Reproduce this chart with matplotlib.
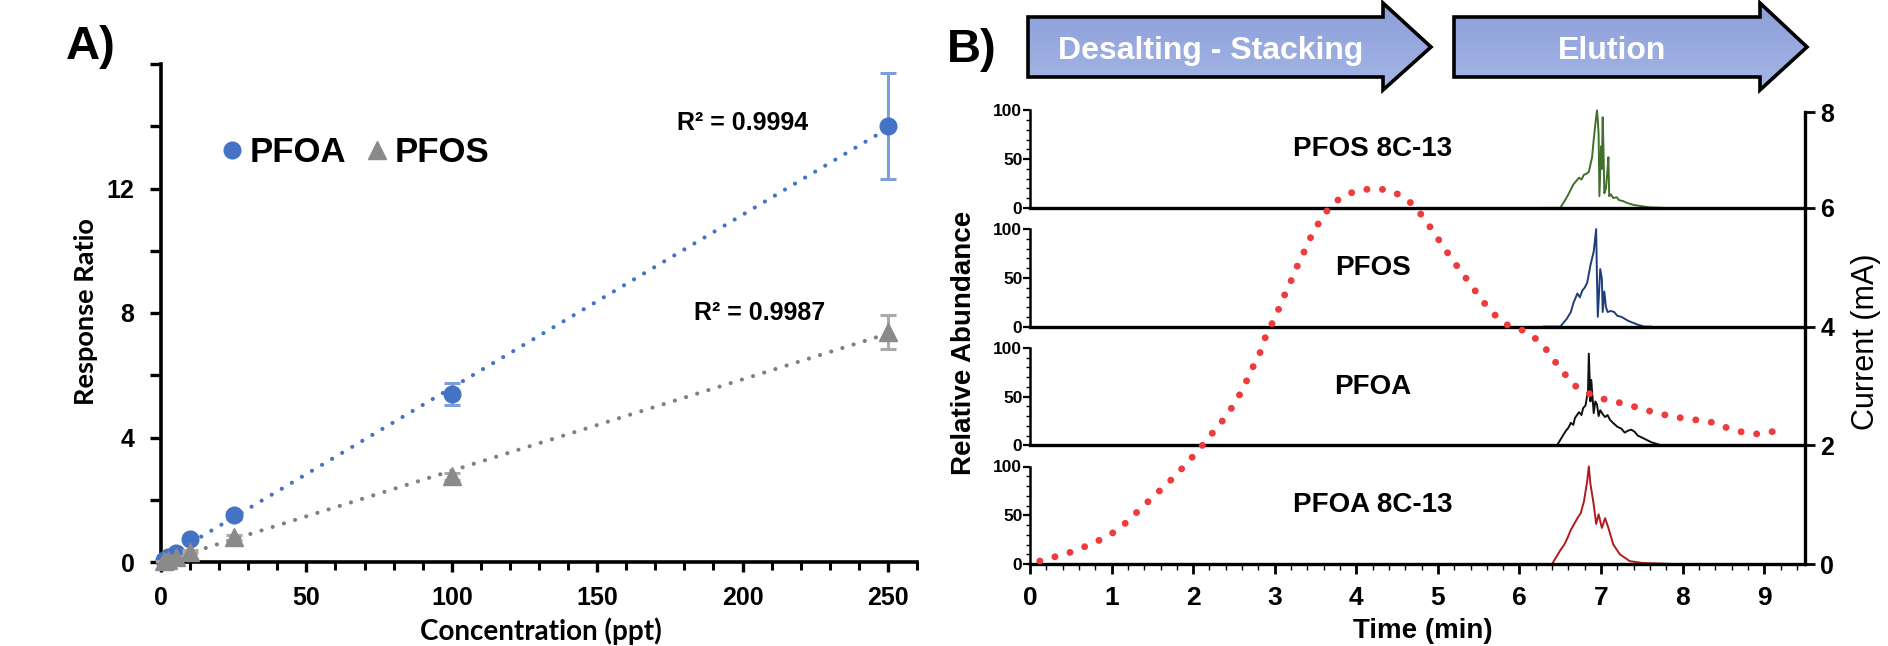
import numpy as np
import matplotlib
matplotlib.use("Agg")
import matplotlib.pyplot as plt
from matplotlib.ticker import FixedLocator, MultipleLocator, FuncFormatter
from matplotlib.patches import Polygon
from matplotlib.lines import Line2D
from matplotlib.colors import LinearSegmentedColormap

plt.rcParams['font.family'] = ['Liberation Sans', 'DejaVu Sans']

# ---------------- Panel A data ----------------
conc = [1, 2.5, 5, 10, 25, 100, 250]
pfoa_ratio = [0.08, 0.15, 0.30, 0.75, 1.50, 5.40, 14.0]
pfoa_err = [0.02, 0.03, 0.05, 0.08, 0.12, 0.35, 1.70]
pfos_ratio = [0.03, 0.08, 0.15, 0.33, 0.80, 2.75, 7.40]
pfos_err = [0.01, 0.02, 0.03, 0.05, 0.08, 0.12, 0.55]
r2_pfoa = "R² = 0.9994"
r2_pfos = "R² = 0.9987"
xticks_a = [0, 50, 100, 150, 200, 250]
yticks_a = [0, 4, 8, 12]

# ---------------- Panel B data ----------------
current_t = [0.12, 0.30, 0.48, 0.65, 0.82, 0.98, 1.14, 1.27, 1.40, 1.54, 1.67, 1.80, 1.92,
             2.05, 2.16, 2.28, 2.40, 2.50, 2.59, 2.67, 2.75, 2.83, 2.89, 2.97, 3.05, 3.12,
             3.20, 3.27, 3.35, 3.42, 3.51, 3.61, 3.73, 3.88, 4.05, 4.24, 4.42, 4.57, 4.72,
             4.83, 4.94, 5.04, 5.15, 5.26, 5.37, 5.48, 5.59, 5.71, 5.85, 6.02, 6.18, 6.32,
             6.43, 6.54, 6.65, 6.79, 6.97, 7.15, 7.32, 7.50, 7.67, 7.85, 8.04, 8.21, 8.39,
             8.57, 8.74, 8.92, 9.10, 9.28]
current_mA = [0.05, 0.12, 0.19, 0.28, 0.38, 0.49, 0.65, 0.82, 0.99, 1.17, 1.34, 1.51, 1.70,
              1.89, 2.08, 2.28, 2.48, 2.69, 2.90, 3.13, 3.37, 3.59, 3.84, 4.06, 4.30, 4.53,
              4.77, 5.00, 5.23, 5.45, 5.68, 5.90, 6.09, 6.23, 6.30, 6.33, 6.29, 6.19, 6.03,
              5.82, 5.61, 5.40, 5.18, 4.97, 4.77, 4.56, 4.36, 4.18, 4.03, 3.95, 3.82, 3.63,
              3.42, 3.23, 3.03, 2.91, 2.80, 2.74, 2.69, 2.61, 2.55, 2.49, 2.45, 2.42, 2.38,
              2.28, 2.22, 2.19, 2.23, 2.27]

pfos13_t = [6.28, 6.50, 6.56, 6.60, 6.63, 6.66, 6.70, 6.73, 6.76, 6.79, 6.82, 6.85, 6.89,
            6.91, 6.93, 6.95, 6.96, 6.97, 6.98, 7.00, 7.01, 7.02, 7.03, 7.04, 7.06, 7.08,
            7.09, 7.10, 7.12, 7.15, 7.19, 7.22, 7.27, 7.32, 7.40, 7.48, 7.60, 7.76]
pfos13_y = [0, 0, 8, 14, 19, 24, 28, 31, 29, 34, 35, 37, 52, 70, 86, 100, 90, 76, 12, 63,
            40, 93, 60, 15, 20, 40, 52, 12, 14, 10, 11, 8, 7, 5, 3, 2, 0.5, 0]
pfos_t = [6.30, 6.50, 6.58, 6.63, 6.66, 6.68, 6.71, 6.74, 6.77, 6.80, 6.83, 6.87, 6.91, 6.94,
          6.95, 6.96, 6.99, 7.01, 7.02, 7.04, 7.06, 7.08, 7.12, 7.16, 7.20, 7.25, 7.33,
          7.45, 7.53, 7.61]
pfos_y = [0, 0, 8, 15, 24, 28, 34, 30, 37, 40, 45, 63, 77, 100, 49, 10, 59, 49, 15, 36, 20,
          15, 16, 15, 11, 10, 6, 2, 0, 0]
pfoa_t = [6.46, 6.54, 6.57, 6.60, 6.63, 6.66, 6.68, 6.73, 6.76, 6.78, 6.81, 6.84, 6.85, 6.87,
          6.88, 6.91, 6.93, 6.95, 6.97, 6.99, 7.02, 7.05, 7.08, 7.11, 7.16, 7.20, 7.25,
          7.29, 7.33, 7.37, 7.41, 7.45, 7.50, 7.62, 7.74]
pfoa_y = [0, 11, 15, 18, 23, 21, 28, 34, 31, 38, 41, 56, 94, 45, 67, 33, 45, 42, 30, 36, 32,
          29, 31, 26, 22, 19, 17, 13, 15, 16, 14, 10, 8, 3, 0]
pfoa13_t = [6.08, 6.40, 6.50, 6.55, 6.59, 6.63, 6.67, 6.71, 6.75, 6.79, 6.83, 6.85, 6.87,
            6.91, 6.94, 6.97, 7.01, 7.05, 7.09, 7.15, 7.23, 7.35, 7.51, 7.88]
pfoa13_y = [0, 0, 14, 20, 27, 35, 41, 47, 52, 64, 85, 100, 82, 61, 41, 51, 37, 47, 37, 20,
            10, 3, 1, 0]

panel_names = ["PFOS 8C-13", "PFOS", "PFOA", "PFOA 8C-13"]
panel_colors = ["#416f2c", "#1f3d7a", "#111111", "#b3191c"]
panel_t = [pfos13_t, pfos_t, pfoa_t, pfoa13_t]
panel_y = [pfos13_y, pfos_y, pfoa_y, pfoa13_y]
time_ticks = list(range(10))
current_ticks = [0, 2, 4, 6]
stage_labels = ["Desalting - Stacking", "Elution"]

# ---------------- figure ----------------
W, H = 1888, 646
fig = plt.figure(figsize=(W / 100, H / 100), dpi=100)


def fx(px):
    return px / W


def fy(py):
    return 1 - py / H


# decoration layer in pixel coordinates
deco = fig.add_axes([0, 0, 1, 1])
deco.set_xlim(0, W)
deco.set_ylim(H, 0)
deco.axis("off")

deco.text(91, 47, "A)", fontsize=34, fontweight="bold", ha="center", va="center")
deco.text(972, 50, "B)", fontsize=34, fontweight="bold", ha="center", va="center")

cmap_arrow = LinearSegmentedColormap.from_list("arr", ["#8b9fd9", "#a5b5e5"])
grad = np.linspace(0, 1, 64).reshape(-1, 1)
arrow_specs = [(1028, 1383, 1431), (1454, 1760, 1807)]
for (x0, xh, xt), lab in zip(arrow_specs, stage_labels):
    pts = [(x0, 17), (xh, 17), (xh, 3), (xt, 47), (xh, 90), (xh, 77), (x0, 77)]
    poly = Polygon(pts, closed=True, facecolor="none", edgecolor="black", lw=2.6,
                   joinstyle="miter", zorder=3)
    deco.add_patch(poly)
    im = deco.imshow(grad, cmap=cmap_arrow, extent=(x0, xt, 90, 3), aspect="auto", zorder=2)
    im.set_clip_path(poly)
    deco.text((x0 + xh) / 2 + 5, 51, lab, color="white", fontsize=23, fontweight="bold",
              ha="center", va="center", zorder=4)
deco.set_xlim(0, W)
deco.set_ylim(H, 0)

# ---------------- Panel A ----------------
blue = "#4472c4"
gray = "#8a8a8a"
axA = fig.add_axes([fx(161), fy(562), fx(917) - fx(161), fy(64) - fy(562)])
axA.set_xlim(0, 260)
axA.set_ylim(0, 16)

xfit = np.array([0, max(conc)])
for vals, lcol in [(pfoa_ratio, "#4472c4"), (pfos_ratio, "#7f7f7f")]:
    m, b = np.polyfit(conc, vals, 1)
    axA.plot(xfit, m * xfit + b, ls=(0, (0.01, 2.8)), lw=3.0, color=lcol,
             dash_capstyle="round", zorder=2)

axA.errorbar(conc, pfoa_ratio, yerr=pfoa_err, fmt="o", ms=12, color=blue,
             ecolor="#7c9ed9", elinewidth=2.2, capsize=6, capthick=2.2, zorder=3, clip_on=False)
axA.errorbar(conc, pfos_ratio, yerr=pfos_err, fmt="^", ms=13, color=gray,
             ecolor="#a9a9a9", elinewidth=2.2, capsize=6, capthick=2.2, zorder=4, clip_on=False)

axA.text(200, 14.1, r2_pfoa, fontsize=18, fontweight="bold", ha="center", va="center")
axA.text(206, 8.0, r2_pfos, fontsize=18, fontweight="bold", ha="center", va="center")

for side in ["top", "right"]:
    axA.spines[side].set_visible(False)
for side in ["left", "bottom"]:
    axA.spines[side].set_linewidth(2.6)
axA.set_xticks(xticks_a)
axA.xaxis.set_minor_locator(MultipleLocator(10))
axA.yaxis.set_major_locator(MultipleLocator(2))
axA.yaxis.set_major_formatter(FuncFormatter(lambda v, p: f"{int(v)}" if int(round(v)) in yticks_a else ""))
axA.tick_params(axis="both", which="major", direction="out", width=2.4, labelsize=18)
axA.tick_params(axis="y", which="major", length=8, pad=11)
axA.tick_params(axis="x", which="major", length=7, pad=10)
axA.tick_params(axis="x", which="minor", direction="out", length=6, width=2.2)
for lab in axA.get_xticklabels() + axA.get_yticklabels():
    lab.set_fontweight("bold")

deco.text(541, 631, "Concentration (ppt)", fontsize=20, fontweight="bold",
          family=["Lato", "Liberation Sans"], ha="center", va="center")
deco.text(86, 312, "Response Ratio", fontsize=19.5, fontweight="bold", rotation=90,
          family=["Lato", "Liberation Sans"], ha="center", va="center")

handles = [Line2D([], [], ls="none", marker="o", ms=12, color=blue),
           Line2D([], [], ls="none", marker="^", ms=13, color=gray)]
fig.legend(handles, ["PFOA", "PFOS"], loc="center left", bbox_to_anchor=(fx(220), fy(153)),
           ncol=2, frameon=False, prop=dict(weight="bold", size=25), handlelength=0.7,
           handletextpad=0.15, columnspacing=0.55, borderpad=0, borderaxespad=0)

# ---------------- Panel B ----------------
t_max = 9.5
x_left, x_right = 1030, 1805
panel_h = 118.7
px_per_unit = 0.975
ytop = panel_h / px_per_unit
bottom_base = 564
bases = [bottom_base - panel_h * k for k in (3, 2, 1, 0)]

for i, (name, col, tt, yy) in enumerate(zip(panel_names, panel_colors, panel_t, panel_y)):
    base = bases[i]
    ax = fig.add_axes([fx(x_left), fy(base), fx(x_right) - fx(x_left), panel_h / H])
    ax.patch.set_alpha(0)
    ax.set_xlim(0, t_max)
    ax.set_ylim(0, ytop)
    ax.plot(tt, yy, color=col, lw=1.4, zorder=2)
    ax.text(4.2, 60, name, fontsize=20, fontweight="bold", ha="center", va="center")
    ax.spines["top"].set_visible(False)
    ax.spines["right"].set_visible(False)
    ax.spines["left"].set_bounds(0, 100)
    ax.spines["left"].set_linewidth(1.8)
    ax.spines["bottom"].set_linewidth(2.4)
    ax.yaxis.set_major_locator(FixedLocator([0, 50, 100]))
    ax.yaxis.set_minor_locator(FixedLocator(list(range(0, 101, 10))))
    ax.tick_params(axis="y", which="major", direction="out", length=5, width=1.6,
                   labelsize=12.5, pad=0.5)
    ax.tick_params(axis="y", which="minor", direction="out", length=3, width=1.0)
    for lab in ax.get_yticklabels():
        lab.set_fontweight("bold")
    if i < 3:
        ax.tick_params(axis="x", which="both", bottom=False, labelbottom=False)
    else:
        ax.set_xticks(time_ticks)
        ax.xaxis.set_minor_locator(MultipleLocator(0.2))
        ax.tick_params(axis="x", which="major", direction="out", length=7, width=2.0,
                       labelsize=19, pad=9)
        ax.tick_params(axis="x", which="minor", direction="out", length=4, width=1.0)
        for lab in ax.get_xticklabels():
            lab.set_fontweight("bold")

# current overlay
top_px = 112
cur_top = (bottom_base - top_px) / (panel_h / 2)
axC = fig.add_axes([fx(x_left), fy(bottom_base), fx(x_right) - fx(x_left),
                    (bottom_base - top_px) / H])
axC.patch.set_alpha(0)
axC.set_xlim(0, t_max)
axC.set_ylim(0, cur_top)
axC.plot(current_t, current_mA, ls=(0, (0.01, 2.25)), lw=5.0, color="#ef3b3b",
         dash_capstyle="round", zorder=5)
for side in ["top", "left", "bottom"]:
    axC.spines[side].set_visible(False)
axC.spines["right"].set_linewidth(2.4)
axC.tick_params(axis="x", which="both", bottom=False, labelbottom=False)
axC.yaxis.tick_right()
axC.set_yticks(current_ticks + [cur_top])
axC.set_yticklabels([str(v) for v in current_ticks] + ["8"])
axC.tick_params(axis="y", direction="out", length=7, width=2.0, labelsize=18, pad=4)
for lab in axC.get_yticklabels():
    lab.set_fontweight("bold")

deco.text(1423, 631, "Time (min)", fontsize=20, fontweight="bold", ha="center", va="center")
deco.text(964, 343, "Relative Abundance", fontsize=20, fontweight="bold", rotation=90,
          ha="center", va="center")
deco.text(1866, 342, "Current (mA)", fontsize=22, rotation=90, ha="center", va="center")

fig.savefig("out.png", dpi=100)
